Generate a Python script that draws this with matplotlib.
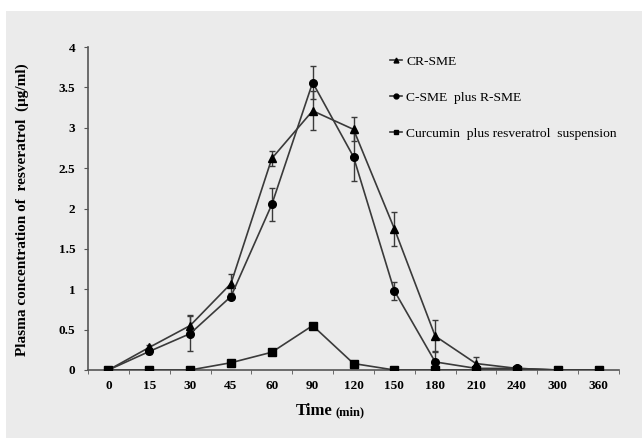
import matplotlib
matplotlib.use("Agg")
import matplotlib.pyplot as plt
from matplotlib.patches import Rectangle
from matplotlib.lines import Line2D
import numpy as np

time_labels = ["0", "15", "30", "45", "60", "90", "120", "150", "180", "210", "240", "300", "360"]

cr_sme = [0, 0.28, 0.55, 1.07, 2.62, 3.21, 2.98, 1.75, 0.42, 0.08, 0.02, 0, 0]
cr_sme_err = [0, 0.03, 0.13, 0.12, 0.09, 0.24, 0.15, 0.21, 0.20, 0.08, 0.01, 0, 0]

c_r_sme = [0, 0.23, 0.45, 0.91, 2.05, 3.56, 2.64, 0.98, 0.10, 0.02, 0.02, 0, 0]
c_r_sme_err = [0, 0.03, 0.22, 0.03, 0.20, 0.20, 0.30, 0.11, 0.13, 0.01, 0.01, 0, 0]

suspension = [0, 0, 0, 0.09, 0.22, 0.55, 0.08, 0, 0, 0, 0, 0, 0]

series_names = ["CR-SME", "C-SME  plus R-SME", "Curcumin  plus resveratrol  suspension"]

W, H = 642, 438
fig = plt.figure(figsize=(W / 100, H / 100), dpi=100)
fig.patch.set_facecolor("white")
fig.patches.append(Rectangle((6 / W, 0), 1 - 6 / W, 1 - 11 / H, transform=fig.transFigure,
                             facecolor="#ebebeb", edgecolor="none", zorder=-10))

ax = fig.add_axes([88 / W, (H - 370) / H, (619 - 88) / W, (370 - 47) / H])
ax.set_facecolor("none")

x = np.arange(len(time_labels))
lc = "#3a3a3a"
serif = "Liberation Serif"
ms = 5.5

ax.errorbar(x, cr_sme, yerr=cr_sme_err, color=lc, lw=1.2, marker="^", ms=ms,
            mfc="black", mec="black", ecolor=lc, elinewidth=1, capsize=2, zorder=3)
ax.errorbar(x, c_r_sme, yerr=c_r_sme_err, color=lc, lw=1.2, marker="o", ms=ms,
            mfc="black", mec="black", ecolor=lc, elinewidth=1, capsize=2, zorder=3)
ax.plot(x, suspension, color=lc, lw=1.2, marker="s", ms=ms, mfc="black", mec="black", zorder=4)

ax.set_xlim(-0.5, 12.5)
ax.set_ylim(0, 4)
ax.set_yticks(np.arange(0, 4.01, 0.5))
ax.set_yticklabels(["0", "0.5", "1", "1.5", "2", "2.5", "3", "3.5", "4"])
ax.set_xticks(x)
ax.set_xticklabels(time_labels)
ax.set_xticks(np.arange(-0.5, 12.6, 1), minor=True)
ax.tick_params(axis="x", which="major", length=0, pad=7)
ax.tick_params(axis="x", which="minor", length=3, direction="out", color="#555555")
ax.tick_params(axis="y", length=3, direction="out", color="#555555", pad=6)

for lab in ax.get_xticklabels() + ax.get_yticklabels():
    lab.set_fontfamily(serif)
    lab.set_fontweight("bold")
    lab.set_fontsize(9.5)

for s in ["top", "right"]:
    ax.spines[s].set_visible(False)
for s in ["left", "bottom"]:
    ax.spines[s].set_color("#555555")
    ax.spines[s].set_linewidth(1.2)

fig.text(22 / W, 1 - 210 / H, "Plasma concentration of  resveratrol  (\u03bcg/ml)", rotation=90,
         ha="center", va="center", fontfamily=serif, fontweight="bold", fontsize=11)
fig.text(333 / W, 1 - 411 / H, "Time", ha="right", va="center", fontfamily=serif,
         fontweight="bold", fontsize=12)
fig.text(335 / W, 1 - 412 / H, "(min)", ha="left", va="center", fontfamily=serif,
         fontweight="bold", fontsize=9)

handles = [
    Line2D([], [], color=lc, lw=1.2, marker="^", ms=3.5, mfc="black", mec="black"),
    Line2D([], [], color=lc, lw=1.2, marker="o", ms=3.5, mfc="black", mec="black"),
    Line2D([], [], color=lc, lw=1.2, marker="s", ms=3.5, mfc="black", mec="black"),
]
ax.legend(handles, series_names, loc="upper left", bbox_to_anchor=(378 / W, 1 - 43 / H),
          bbox_transform=fig.transFigure, frameon=False, handlelength=0.9, handletextpad=0.3,
          labelspacing=1.75, prop={"family": serif, "size": 9.7})

fig.savefig("out.png", dpi=100, facecolor=fig.get_facecolor())
